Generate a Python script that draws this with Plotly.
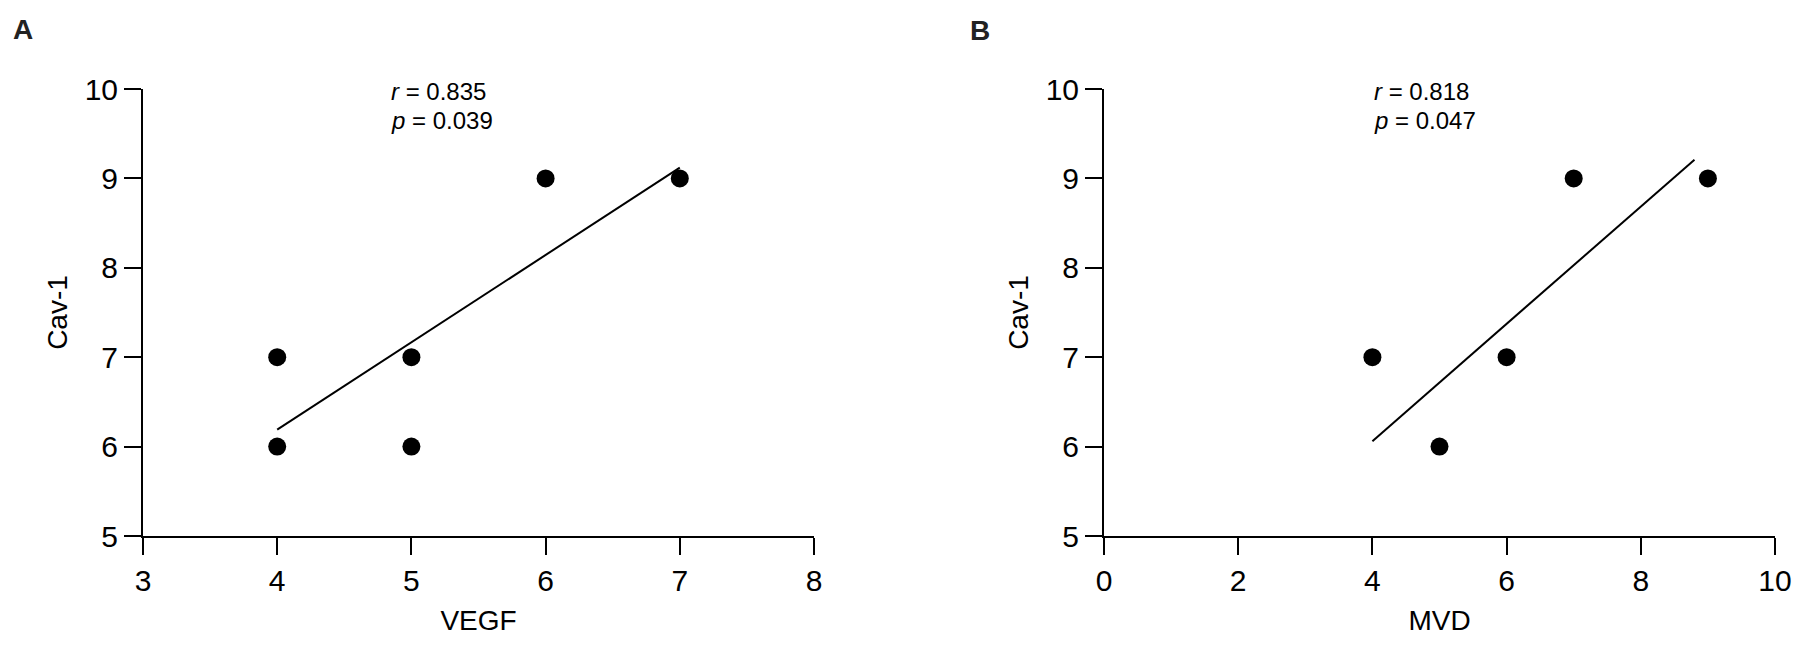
import plotly.graph_objects as go

# Panel A data
vegf = [4, 4, 5, 5, 6, 7]
cav1_a = [6, 7, 6, 7, 9, 9]
fit_a_x = [4, 7]
fit_a_y = [6.19, 9.12]
stats_a = ["r", "0.835", "p", "0.039"]

# Panel B data
mvd = [4, 5, 6, 7, 9]
cav1_b = [7, 6, 7, 9, 9]
fit_b_x = [4, 8.8]
fit_b_y = [6.06, 9.21]
stats_b = ["r", "0.818", "p", "0.047"]

xticks_a = [3, 4, 5, 6, 7, 8]
xticks_b = [0, 2, 4, 6, 8, 10]
yticks = [5, 6, 7, 8, 9, 10]

FONT = "Liberation Sans, Arial, Helvetica, sans-serif"
W, H = 1810, 657

fig = go.Figure()

fig.add_trace(go.Scatter(x=vegf, y=cav1_a, mode="markers",
                         marker=dict(size=18, color="black"),
                         xaxis="x", yaxis="y", showlegend=False))
fig.add_trace(go.Scatter(x=fit_a_x, y=fit_a_y, mode="lines",
                         line=dict(color="black", width=2),
                         xaxis="x", yaxis="y", showlegend=False))
fig.add_trace(go.Scatter(x=mvd, y=cav1_b, mode="markers",
                         marker=dict(size=18, color="black"),
                         xaxis="x2", yaxis="y2", showlegend=False))
fig.add_trace(go.Scatter(x=fit_b_x, y=fit_b_y, mode="lines",
                         line=dict(color="black", width=2),
                         xaxis="x2", yaxis="y2", showlegend=False))

ydom = [121 / H, 568 / H]

common_axis = dict(
    showgrid=False, zeroline=False, showline=True, linecolor="black",
    linewidth=2, ticks="outside", ticklen=17, tickwidth=2, tickcolor="black",
    tickfont=dict(family=FONT, size=30, color="black"),
    automargin=False,
)

TITLE_FONT = dict(family=FONT, size=28, color="black")

fig.update_layout(
    width=W, height=H,
    margin=dict(l=0, r=0, t=0, b=0),
    paper_bgcolor="white", plot_bgcolor="white",
    font=dict(family=FONT, color="black"),
    xaxis=dict(domain=[143 / W, 814 / W], range=[3, 8], tickvals=xticks_a,
               anchor="y",
               title=dict(text="VEGF", font=TITLE_FONT, standoff=14),
               **common_axis),
    yaxis=dict(domain=ydom, range=[5, 10], tickvals=yticks, anchor="x",
               title=dict(text="Cav-1", font=TITLE_FONT, standoff=9),
               **common_axis),
    xaxis2=dict(domain=[1104 / W, 1775 / W], range=[0, 10], tickvals=xticks_b,
                anchor="y2",
                title=dict(text="MVD", font=TITLE_FONT, standoff=14),
                **common_axis),
    yaxis2=dict(domain=ydom, range=[5, 10], tickvals=yticks, anchor="x2",
                title=dict(text="Cav-1", font=TITLE_FONT, standoff=9),
                **common_axis),
)

def stats(xref, yref, x, s):
    fig.add_annotation(xref=xref, yref=yref, x=x, y=9.97, xanchor="left",
                       yanchor="middle", showarrow=False,
                       text=f"<i>{s[0]}</i> = {s[1]}",
                       font=dict(family=FONT, size=24, color="black"))
    fig.add_annotation(xref=xref, yref=yref, x=x, y=9.65, xanchor="left",
                       yanchor="middle", showarrow=False,
                       text=f"<i>{s[2]}</i> = {s[3]}",
                       font=dict(family=FONT, size=24, color="black"))

stats("x", "y", 4.83, stats_a)
stats("x2", "y2", 4.0, stats_b)

fig.add_annotation(xref="paper", yref="paper", x=23 / W, y=1 - 29 / H,
                   xanchor="center", yanchor="middle", showarrow=False,
                   text="<b>A</b>", font=dict(family=FONT, size=28, color="#222"))
fig.add_annotation(xref="paper", yref="paper", x=980 / W, y=1 - 30 / H,
                   xanchor="center", yanchor="middle", showarrow=False,
                   text="<b>B</b>", font=dict(family=FONT, size=28, color="#222"))

fig.write_html("out.html", config={"displayModeBar": False},
               post_script="document.body.style.margin='0';document.body.style.padding='0';")
